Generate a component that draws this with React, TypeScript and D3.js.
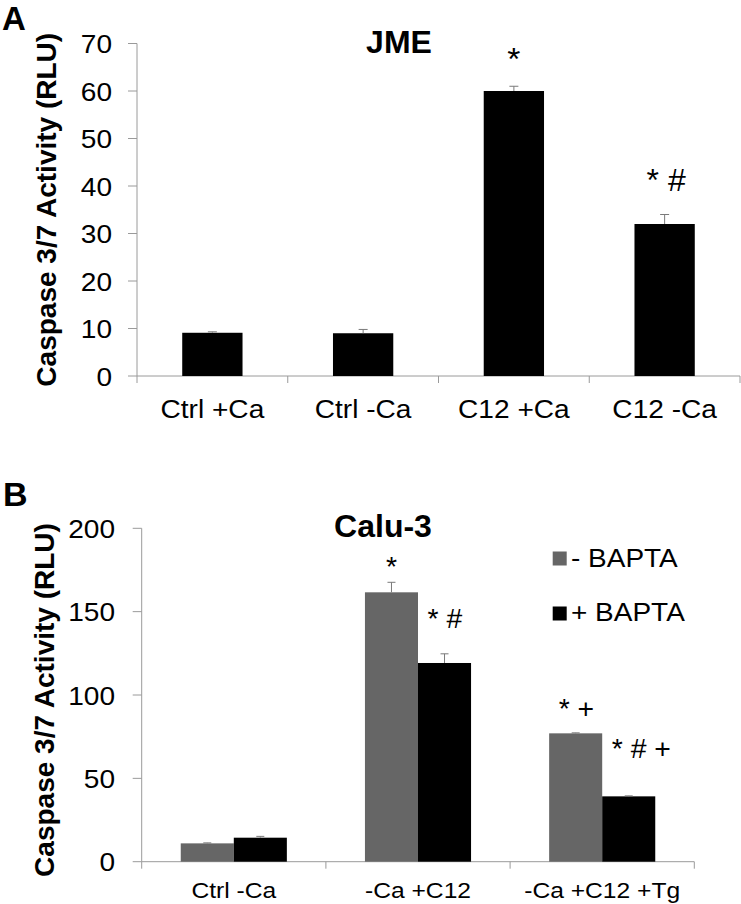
import React from "react";
import * as d3 from "d3";

// ---------- Panel A data (JME) ----------
const catsA = ["Ctrl +Ca", "Ctrl -Ca", "C12 +Ca", "C12 -Ca"];
const valsA = [9.1, 9.0, 60.0, 32.0];
const errA = [0.2, 0.8, 1.0, 2.0];
const annotA = ["", "", "*", "* #"];
const annotYA = [0, 0, 64.5, 39];
const ticksA = [0, 10, 20, 30, 40, 50, 60, 70];

// ---------- Panel B data (Calu-3) ----------
const catsB = ["Ctrl -Ca", "-Ca +C12", "-Ca +C12 +Tg"];
const seriesB = ["- BAPTA", "+ BAPTA"];
const valsBminus = [11.0, 161.6, 77.0];
const valsBplus = [14.4, 119.2, 39.2];
const errBminus = [0.3, 6.0, 0.3];
const errBplus = [0.8, 5.5, 0.3];
const annotBminus = ["", "*", "* +"];
const annotBplus = ["", "* #", "* # +"];
const annotYBminus = [0, 171.5, 86];
const annotYBplus = [0, 140, 62];
const ticksB = [0, 50, 100, 150, 200];

const FONT = "'Liberation Sans', Arial, Helvetica, sans-serif";
const AXIS = "#9a9a9a";
const ERR = "#7a7a7a";
const GREY = "#666666";
const BLACK = "#000000";
const colorsB = [GREY, BLACK];

type TProps = {
  x: number;
  y: number;
  size: number;
  anchor?: "start" | "middle" | "end";
  weight?: string | number;
  sx?: number;
  rotate?: number;
  children: React.ReactNode;
};

function T({ x, y, size, anchor = "start", weight = "normal", sx = 1, rotate = 0, children }: TProps) {
  const tr = `translate(${x},${y})${rotate ? ` rotate(${rotate})` : ""} scale(${sx},1)`;
  return (
    <text
      transform={tr}
      textAnchor={anchor}
      fontFamily={FONT}
      fontSize={size}
      fontWeight={weight}
      fill="#000"
    >
      {children}
    </text>
  );
}

function PanelA() {
  const left = 137, right = 740, top = 43.5, bottom = 376;
  const x = d3.scaleBand<string>().domain(catsA).range([left, right]).paddingInner(0.6).paddingOuter(0.3);
  const y = d3.scaleLinear().domain([0, 70]).range([bottom, top]);
  const step = x.step();
  const bounds = d3.range(catsA.length + 1).map((i) => left + i * step);
  const bw = x.bandwidth();
  return (
    <g>
      {/* axes */}
      <line x1={left} x2={left} y1={y(70)} y2={bottom} stroke={AXIS} strokeWidth={1} />
      <line x1={left} x2={right} y1={bottom} y2={bottom} stroke={AXIS} strokeWidth={1} />
      {ticksA.map((t) => (
        <g key={t}>
          <line x1={left - 9} x2={left} y1={y(t)} y2={y(t)} stroke={AXIS} strokeWidth={1} />
          <T x={112} y={y(t) + 9.5} size={26} anchor="end" sx={1.08}>{t}</T>
        </g>
      ))}
      {bounds.map((b, i) => (
        <line key={i} x1={b} x2={b} y1={bottom} y2={bottom + 7} stroke={AXIS} strokeWidth={1} />
      ))}
      {/* bars */}
      {catsA.map((c, i) => {
        const cx = (x(c) as number) + bw / 2;
        return (
          <g key={c}>
            <rect x={x(c)} y={y(valsA[i])} width={bw} height={bottom - y(valsA[i])} fill={BLACK} />
            <line x1={cx} x2={cx} y1={y(valsA[i])} y2={y(valsA[i] + errA[i])} stroke={ERR} strokeWidth={1} />
            <line x1={cx - 4.5} x2={cx + 4.5} y1={y(valsA[i] + errA[i])} y2={y(valsA[i] + errA[i])} stroke={ERR} strokeWidth={1} />
            {annotA[i] && (
              annotA[i].length === 1 ? (
                <T x={cx} y={y(annotYA[i])} size={32} anchor="middle" sx={1.05}>{annotA[i]}</T>
              ) : (
                <T x={(x(c) as number) + bw * 0.2} y={y(annotYA[i])} size={32} anchor="start" sx={1.0}>{annotA[i]}</T>
              )
            )}
            <T x={cx} y={418} size={26} anchor="middle" sx={1.08}>{c}</T>
          </g>
        );
      })}
      {/* title and labels */}
      <T x={399} y={53} size={32} anchor="middle" weight="bold">JME</T>
      <T x={56} y={(top + bottom) / 2} size={28} anchor="middle" weight="bold" rotate={-90}>Caspase 3/7 Activity (RLU)</T>
      <T x={2} y={30} size={33} weight="bold">A</T>
    </g>
  );
}

function PanelB() {
  const left = 141.7, right = 694.3, top = 528.3, bottom = 861.7;
  const x0 = d3.scaleBand<string>().domain(catsB).range([left, right]).paddingInner(0.424).paddingOuter(0.212);
  const x1 = d3.scaleBand<string>().domain(seriesB).range([0, x0.bandwidth()]).padding(0);
  const y = d3.scaleLinear().domain([0, 200]).range([bottom, top]);
  const step = x0.step();
  const bounds = d3.range(catsB.length + 1).map((i) => left + i * step);
  const bw = x1.bandwidth();
  const vals = [valsBminus, valsBplus];
  const errs = [errBminus, errBplus];
  const annots = [annotBminus, annotBplus];
  const annotYs = [annotYBminus, annotYBplus];
  return (
    <g>
      <line x1={left} x2={left} y1={top} y2={bottom} stroke={AXIS} strokeWidth={1} />
      <line x1={left} x2={right} y1={bottom} y2={bottom} stroke={AXIS} strokeWidth={1} />
      {ticksB.map((t) => (
        <g key={t}>
          <line x1={left - 9} x2={left} y1={y(t)} y2={y(t)} stroke={AXIS} strokeWidth={1} />
          <T x={115} y={y(t) + 9.5} size={26} anchor="end" sx={1.08}>{t}</T>
        </g>
      ))}
      {bounds.map((b, i) => (
        <line key={i} x1={b} x2={b} y1={bottom} y2={bottom + 7} stroke={AXIS} strokeWidth={1} />
      ))}
      {catsB.map((c, ci) => {
        const gx = x0(c) as number;
        return (
          <g key={c}>
            {seriesB.map((s, si) => {
              const v = vals[si][ci];
              const e = errs[si][ci];
              const bx = gx + (x1(s) as number);
              const cx = bx + bw / 2;
              const a = annots[si][ci];
              return (
                <g key={s}>
                  <rect x={bx} y={y(v)} width={bw} height={bottom - y(v)} fill={colorsB[si]} />
                  <line x1={cx} x2={cx} y1={y(v)} y2={y(v + e)} stroke={ERR} strokeWidth={1} />
                  <line x1={cx - 4} x2={cx + 4} y1={y(v + e)} y2={y(v + e)} stroke={ERR} strokeWidth={1} />
                  {a && (
                    a.length === 1 ? (
                      <T x={cx} y={y(annotYs[si][ci])} size={27} anchor="middle" sx={1.05}>{a}</T>
                    ) : (
                      <T x={bx + bw * 0.18} y={y(annotYs[si][ci])} size={27} anchor="start" sx={1.05}>{a}</T>
                    )
                  )}
                </g>
              );
            })}
            <T x={gx + x0.bandwidth() / 2} y={898} size={22} anchor="middle" sx={1.12}>{c}</T>
          </g>
        );
      })}
      {/* legend */}
      {seriesB.map((s, i) => (
        <g key={s}>
          <rect x={552.7} y={551.5 + i * 55} width={14} height={14} fill={colorsB[i]} />
          <T x={571} y={567 + i * 54} size={25} sx={1.12}>{s}</T>
        </g>
      ))}
      <T x={383} y={536.5} size={32} anchor="middle" weight="bold">Calu-3</T>
      <T x={54} y={(top + bottom) / 2 + 5} size={28} anchor="middle" weight="bold" rotate={-90}>Caspase 3/7 Activity (RLU)</T>
      <T x={3} y={506} size={34} weight="bold">B</T>
    </g>
  );
}

export default function App() {
  return (
    <svg
      width={741}
      height={904}
      viewBox="0 0 741 904"
      style={{ position: "absolute", left: 0, top: 0, background: "#fff", display: "block" }}
    >
      <rect x={0} y={0} width={741} height={904} fill="#fff" />
      <PanelA />
      <PanelB />
    </svg>
  );
}
